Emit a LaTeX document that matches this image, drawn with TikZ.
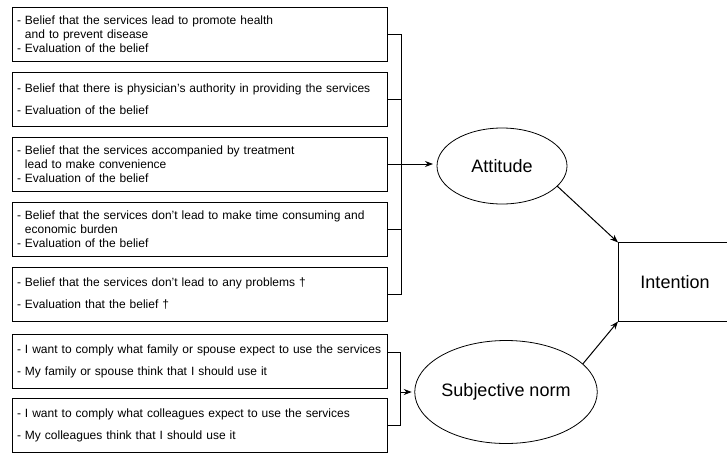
\documentclass[tikz,border=0pt]{standalone}
\usepackage{fontspec}
\setmainfont{Liberation Sans}
\usetikzlibrary{arrows.meta, positioning, shapes.geometric, calc}
\tikzset{
  every picture/.style={line width=0.8pt},
  belief/.style={draw, anchor=north west, outer sep=0pt, minimum width=375pt, minimum height=54pt,
                 text width=365pt, inner xsep=5pt, inner ysep=2pt, align=left,
                 font=\fontsize{12}{14}\selectfont},
  construct/.style={draw, ellipse, inner sep=0pt, outer sep=0pt, font=\fontsize{18}{20}\selectfont},
  arrow/.style={-{Stealth[length=8pt, width=6pt]}, line width=1pt},
}

\begin{document}
\begin{tikzpicture}[x=1pt, y=-1pt]
  \useasboundingbox (0,0) rectangle (727,455);
  % behavioural beliefs
  \node[belief] (b1) at (12,7)   {- Belief that the services lead to promote health\\ \phantom{- }and to prevent disease\\ - Evaluation of the belief};
  \node[belief] (b2) at (12,72)  {- Belief that there is physician's authority in providing the services\\[8pt] - Evaluation of the belief};
  \node[belief] (b3) at (12,137) {- Belief that the services accompanied by treatment\\ \phantom{- }lead to make convenience\\ - Evaluation of the belief};
  \node[belief] (b4) at (12,202) {- Belief that the services don't lead to make time consuming and\\ \phantom{- }economic burden\\ - Evaluation of the belief};
  \node[belief] (b5) at (12,267) {- Belief that the services don't lead to any problems †\\[8pt] - Evaluation that the belief †};
  % normative beliefs
  \node[belief] (n1) at (12,334) {- I want to comply what family or spouse expect to use the services\\[8pt] - My family or spouse think that I should use it};
  \node[belief] (n2) at (12,398) {- I want to comply what colleagues expect to use the services\\[8pt] - My colleagues think that I should use it};
  % constructs
  \node[construct, minimum width=130pt, minimum height=76pt] (att) at (502,166) {Attitude};
  \node[construct, minimum width=153pt, minimum height=103pt] (sn) at (506,392) {Subjective norm};
  \node[draw, outer sep=0pt, minimum width=114pt, minimum height=79pt, font=\fontsize{18}{20}\selectfont] (int) at (675,282) {Intention};
  % bracket of the behavioural beliefs
  \coordinate (jb) at ($(b1.east)+(14,0)$);
  \draw (b1.east) -- (jb) -- (jb |- b5.east) -- (b5.east);
  \foreach \b in {b2,b3,b4} \draw (\b.east) -- (jb |- \b.east);
  \draw[arrow, shorten >=4pt] (b3.east) -- (b3.east -| att.west);
  % bracket of the normative beliefs
  \coordinate (jn) at ($(n1.east)+(13,-9)$);
  \draw ($(n1.east)+(0,-9)$) -- (jn) -- (jn |- n2.east) -- (n2.east);
  \draw[arrow, shorten >=3pt] (jn |- sn.west) -- (sn.west);
  % to intention
  \draw[arrow] (att.-20) -- (int.north west);
  \draw[arrow] (sn.20) -- (int.south west);
\end{tikzpicture}
\end{document}
